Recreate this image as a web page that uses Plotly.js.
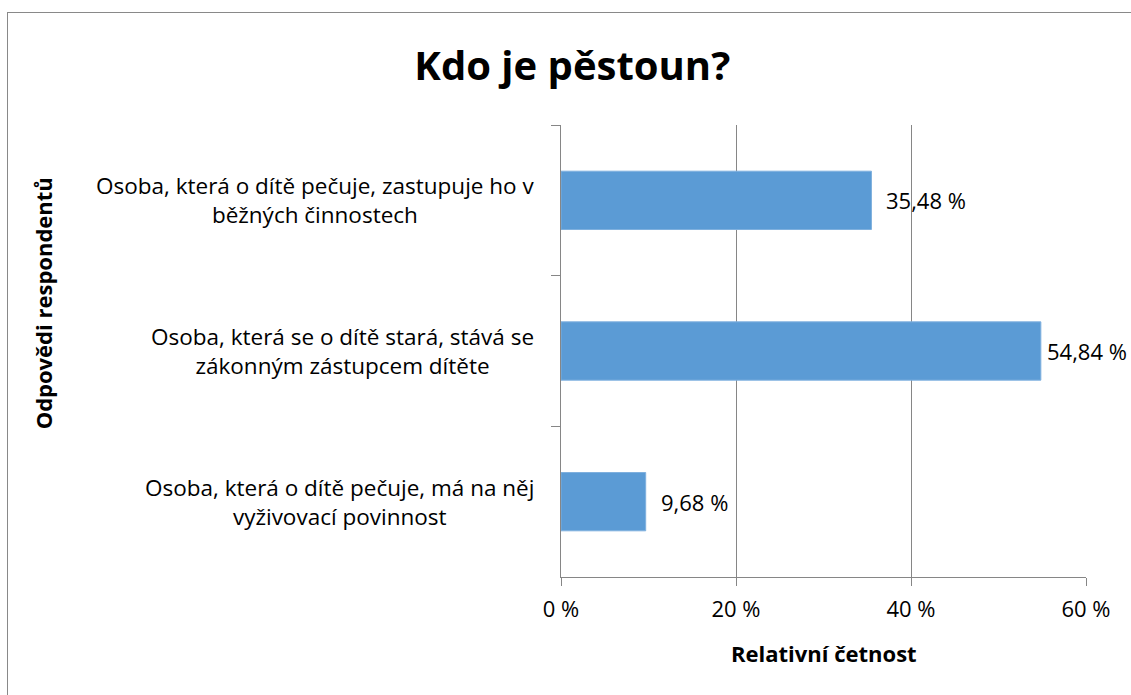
<!DOCTYPE html>
<html>
<head>
<meta charset="utf-8">
<script src="https://cdn.plot.ly/plotly-3.0.1.min.js"></script>
<style>
  html, body { margin: 0; padding: 0; background: #fff; overflow: hidden; }
  #chart { width: 1131px; height: 695px; position: absolute; left: 0; top: 0; }
  #frame { position: absolute; left: 7px; top: 12px; width: 1300px; height: 900px;
           border: 1px solid #898989; pointer-events: none; z-index: 5; }
</style>
</head>
<body>
<div id="chart"></div>
<div id="frame"></div>
<script>
const chartTitle = "Kdo je pěstoun?";
const xTitle = "Relativní četnost";
const yTitle = "Odpovědi respondentů";
const categories = [
  "Osoba, která o dítě pečuje, zastupuje ho v<br>běžných činnostech",
  "Osoba, která se o dítě stará, stává se<br>zákonným zástupcem dítěte",
  "Osoba, která o dítě pečuje, má na něj<br>vyživovací povinnost"
];
const values = [35.48, 54.84, 9.68];
const xTicks = [0, 20, 40, 60];
const xTickText = xTicks.map(v => v + " %");

const FONT = "'Open Sans', Lato, sans-serif";
const X_MAX = 60;

const trace = {
  type: "bar",
  orientation: "h",
  x: values,
  y: categories,
  marker: { color: "#5B9BD5", line: { color: "#7fb0de", width: 1 } },
  hoverinfo: "none"
};

const annotations = [];
categories.forEach((c, i) => {
  annotations.push({
    xref: "paper", yref: "y", x: -0.047, y: c, xanchor: "right", yanchor: "middle",
    text: c, showarrow: false, align: "center",
    font: { family: FONT, size: 22.5, color: "#000" }
  });
  // labels near the right edge sit closer to the bar end so they fit
  const near = values[i] > X_MAX * 0.85;
  annotations.push({
    xref: "x", yref: "y", x: values[i], y: c, xanchor: "left", yanchor: "middle",
    xshift: near ? 4 : 13, text: values[i].toFixed(2).replace(".", ",") + " %", showarrow: false,
    font: { family: FONT, size: 22, color: "#000" }
  });
});
annotations.push({
  xref: "paper", yref: "paper", x: -0.987, y: 0.605, xanchor: "center", yanchor: "middle",
  text: "<b>" + yTitle + "</b>", textangle: -90, showarrow: false,
  font: { family: FONT, size: 22, color: "#000" }
});
annotations.push({
  xref: "paper", yref: "paper", x: 0.5, y: -0.168, xanchor: "center", yanchor: "middle",
  text: "<b>" + xTitle + "</b>", showarrow: false,
  font: { family: FONT, size: 22, color: "#000" }
});

const layout = {
  width: 1131, height: 695,
  margin: { l: 561, r: 45, t: 125, b: 118 },
  paper_bgcolor: "#fff", plot_bgcolor: "#fff",
  separators: ", ",
  showlegend: false,
  bargap: 0.613,
  title: {
    text: "<b>" + chartTitle + "</b>",
    x: 0.506, xref: "container", xanchor: "center",
    y: 0.905, yref: "container", yanchor: "middle",
    font: { family: FONT, size: 40, color: "#000" }
  },
  xaxis: {
    range: [0, X_MAX],
    tickvals: xTicks,
    ticktext: xTickText,
    tickmode: "array",
    showgrid: true, gridcolor: "#868686", gridwidth: 1,
    zeroline: false,
    showline: true, linecolor: "#868686", linewidth: 1,
    ticks: "outside", ticklen: 8, tickcolor: "#868686",
    ticklabelstandoff: 5,
    tickfont: { family: FONT, size: 22, color: "#000" },
    fixedrange: true
  },
  yaxis: {
    type: "category",
    autorange: "reversed",
    showticklabels: false,
    tickson: "boundaries",
    ticks: "outside", ticklen: 9, tickcolor: "#868686",
    showline: true, linecolor: "#868686", linewidth: 1,
    showgrid: false, zeroline: false,
    fixedrange: true
  },
  annotations: annotations
};

Plotly.newPlot("chart", [trace], layout, { displayModeBar: false, staticPlot: true });
</script>
</body>
</html>
